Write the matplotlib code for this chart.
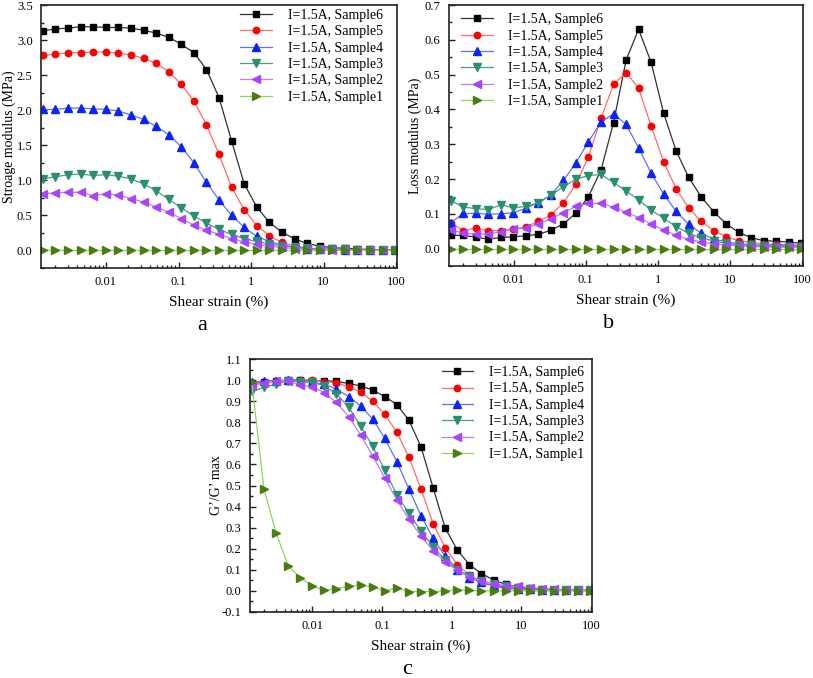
import matplotlib
matplotlib.use("Agg")
import matplotlib.pyplot as plt
from matplotlib.ticker import MultipleLocator, FormatStrFormatter, FuncFormatter, LogLocator, NullFormatter

plt.rcParams['font.family'] = ['Liberation Serif', 'DejaVu Serif']

# shear strain (%) shared by all sweeps
strain = [0.00135, 0.00201, 0.0030, 0.00447, 0.00667, 0.00994, 0.0148, 0.0221,
          0.0330, 0.0491, 0.0733, 0.109, 0.163, 0.243, 0.362, 0.540, 0.805,
          1.20, 1.79, 2.67, 3.98, 5.94, 8.85, 13.2, 19.7, 29.3, 43.8, 65.3, 97.3]

labels = ["I=1.5A, Sample6", "I=1.5A, Sample5", "I=1.5A, Sample4",
          "I=1.5A, Sample3", "I=1.5A, Sample2", "I=1.5A, Sample1"]

# storage modulus G' (MPa)
g1_s6 = [3.13, 3.16, 3.17, 3.19, 3.19, 3.18, 3.18, 3.17, 3.14, 3.10, 3.04, 2.94, 2.82, 2.58, 2.18,
         1.56, 0.95, 0.62, 0.40, 0.26, 0.165, 0.10, 0.06, 0.04, 0.03, 0.02, 0.015, 0.01, 0.005]
g1_s5 = [2.78, 2.80, 2.82, 2.82, 2.83, 2.83, 2.81, 2.79, 2.74, 2.67, 2.55, 2.37, 2.13, 1.79, 1.37,
         0.90, 0.58, 0.355, 0.21, 0.114, 0.062, 0.033, 0.019, 0.014, 0.01, 0.006, 0.005, 0.004, 0.004]
g1_s4 = [2.01, 2.01, 2.03, 2.03, 2.02, 2.01, 1.99, 1.93, 1.87, 1.77, 1.65, 1.48, 1.25, 0.97, 0.72,
         0.50, 0.33, 0.20, 0.128, 0.076, 0.047, 0.028, 0.019, 0.014, 0.01, 0.005, 0.004, 0.003, 0.003]
g1_s3 = [1.02, 1.05, 1.08, 1.09, 1.07, 1.08, 1.06, 1.02, 0.95, 0.85, 0.73, 0.61, 0.49, 0.39, 0.30,
         0.23, 0.17, 0.128, 0.095, 0.066, 0.047, 0.033, 0.024, 0.019, 0.014, 0.01, 0.006, 0.005, 0.004]
g1_s2 = [0.81, 0.82, 0.83, 0.83, 0.78, 0.81, 0.79, 0.74, 0.69, 0.62, 0.545, 0.455, 0.36, 0.29, 0.23,
         0.17, 0.123, 0.09, 0.062, 0.043, 0.028, 0.019, 0.014, 0.01, 0.007, 0.006, 0.005, 0.004, 0.003]
g1_s1 = [0.004, 0.002, 0.001, 0.0005, 0.0003, 0.0001, 0.0, 0.0, 0.0001, 0.0001, 0.0001, 0.0, 0.0,
         0.0, 0.0, 0.0, 0.0, 0.0, 0.0, 0.0, 0.0, 0.0, 0.0, 0.0, 0.0, 0.0, 0.0, 0.0, 0.0]

# loss modulus G'' (MPa)
g2_s6 = [0.038, 0.038, 0.033, 0.027, 0.032, 0.034, 0.037, 0.041, 0.053, 0.071, 0.102, 0.149, 0.226,
         0.362, 0.541, 0.630, 0.536, 0.390, 0.281, 0.205, 0.149, 0.106, 0.071, 0.047, 0.031, 0.023,
         0.021, 0.019, 0.015]
g2_s5 = [0.075, 0.051, 0.059, 0.051, 0.052, 0.056, 0.063, 0.078, 0.097, 0.132, 0.185, 0.264, 0.375,
         0.472, 0.506, 0.461, 0.353, 0.250, 0.172, 0.117, 0.078, 0.052, 0.034, 0.023, 0.017, 0.014,
         0.012, 0.011, 0.010]
g2_s4 = [0.075, 0.101, 0.101, 0.099, 0.100, 0.103, 0.116, 0.132, 0.154, 0.196, 0.247, 0.307, 0.364,
         0.387, 0.357, 0.290, 0.217, 0.157, 0.107, 0.070, 0.044, 0.028, 0.019, 0.014, 0.011, 0.010,
         0.009, 0.009, 0.008]
g2_s3 = [0.138, 0.119, 0.115, 0.112, 0.126, 0.117, 0.121, 0.132, 0.154, 0.178, 0.199, 0.210, 0.213,
         0.190, 0.166, 0.140, 0.111, 0.087, 0.063, 0.044, 0.031, 0.022, 0.015, 0.011, 0.009, 0.007,
         0.006, 0.005, 0.004]
g2_s2 = [0.054, 0.044, 0.042, 0.042, 0.049, 0.056, 0.060, 0.071, 0.086, 0.103, 0.121, 0.130, 0.130,
         0.119, 0.105, 0.089, 0.071, 0.054, 0.038, 0.027, 0.019, 0.013, 0.011, 0.008, 0.006, 0.005,
         0.004, 0.004, 0.004]
g2_s1 = [0.0, 0.0, 0.0, 0.0, 0.0, 0.0, 0.0, 0.0, 0.0, 0.0, 0.0, 0.0, 0.0, 0.0, 0.0, 0.0, 0.0, 0.0,
         0.0, 0.0, 0.0, 0.0, 0.0, 0.0, 0.0, 0.0, 0.0, 0.0, 0.0]

# normalised G'/G'max
gn_s6 = [0.981, 0.991, 0.994, 1.0, 1.0, 0.997, 0.997, 0.994, 0.984, 0.972, 0.953, 0.922, 0.884, 0.809,
         0.683, 0.489, 0.298, 0.194, 0.125, 0.082, 0.052, 0.031, 0.019, 0.013, 0.009, 0.006, 0.005,
         0.003, 0.002]
gn_s5 = [0.982, 0.989, 0.996, 0.996, 1.0, 1.0, 0.993, 0.986, 0.968, 0.943, 0.901, 0.837, 0.753, 0.633,
         0.484, 0.318, 0.205, 0.125, 0.074, 0.040, 0.022, 0.012, 0.007, 0.005, 0.004, 0.003, 0.002,
         0.002, 0.002]
gn_s4 = [0.989, 0.997, 0.998, 1.0, 0.997, 0.990, 0.981, 0.957, 0.922, 0.878, 0.815, 0.724, 0.613, 0.482,
         0.357, 0.249, 0.165, 0.101, 0.063, 0.040, 0.025, 0.017, 0.011, 0.008, 0.005, 0.003, 0.003,
         0.002, 0.002]
gn_s3 = [0.946, 0.965, 0.981, 0.997, 0.992, 0.989, 0.973, 0.935, 0.872, 0.783, 0.685, 0.574, 0.455,
         0.368, 0.284, 0.209, 0.146, 0.101, 0.070, 0.048, 0.032, 0.022, 0.014, 0.010, 0.006, 0.005,
         0.003, 0.002, 0.002]
gn_s2 = [0.970, 0.986, 0.998, 0.994, 0.978, 0.967, 0.941, 0.894, 0.827, 0.740, 0.640, 0.537, 0.431,
         0.339, 0.260, 0.190, 0.138, 0.097, 0.067, 0.048, 0.033, 0.025, 0.021, 0.016, 0.011, 0.008,
         0.006, 0.005, 0.003]
gn_s1 = [0.990, 0.483, 0.277, 0.120, 0.063, 0.024, 0.002, 0.011, 0.022, 0.029, 0.019, 0.0, 0.014,
         -0.003, -0.003, -0.003, 0.0, 0.005, 0.003, 0.0, 0.0, 0.0, 0.0, 0.0, 0.0, 0.0, 0.0, 0.0, 0.0]

mcolors = ['#000000', '#ff0000', '#0a22ff', '#2a8f6f', '#a744ff', '#4a7d10']
lcolors = ['#303030', '#ff6a6a', '#6070ff', '#48a080', '#c07aff', '#88d860']
markers = ['s', 'o', '^', 'v', '<', '>']
msizes = [4.3, 4.6, 5.2, 5.2, 5.2, 5.2]

W, H = 813, 678
fig = plt.figure(figsize=(W / 100, H / 100), dpi=100)


def px_axes(left, top, right, bottom):
    return fig.add_axes([left / W, 1 - bottom / H, (right - left) / W, (bottom - top) / H])


def draw(ax, series, ylim, ymajor, ylabel, ylab_x, leg_xy):
    for i, ys in enumerate(series):
        ax.plot(strain, ys, color=lcolors[i], lw=0.9, marker=markers[i], ms=msizes[i],
                mfc=mcolors[i], mec=mcolors[i], label=labels[i])
    ax.set_xscale('log')
    ax.set_xlim(0.00127, 103)
    ax.set_ylim(*ylim)
    ax.yaxis.set_major_locator(MultipleLocator(ymajor))
    ax.yaxis.set_minor_locator(MultipleLocator(ymajor / 2))
    ax.yaxis.set_major_formatter(FormatStrFormatter('%.1f'))
    ax.xaxis.set_major_locator(LogLocator(base=10, numticks=10))
    ax.xaxis.set_minor_locator(LogLocator(base=10, subs=range(2, 10), numticks=20))
    ax.xaxis.set_minor_formatter(NullFormatter())
    ax.xaxis.set_major_formatter(FuncFormatter(lambda v, p: '%g' % v))
    ax.tick_params(which='both', direction='in', top=False, right=False, labelsize=9,
                   width=1.0, color='#222222')
    ax.tick_params(which='major', length=4.5, pad=6)
    ax.tick_params(which='minor', length=2.5)
    for s in ax.spines.values():
        s.set_linewidth(1.2)
        s.set_color('#222222')
    ax.set_xlabel('Shear strain (%)', fontsize=11, labelpad=5)
    ax.set_ylabel(ylabel, fontsize=10)
    ax.yaxis.set_label_coords(ylab_x, 0.5)
    ax.legend(loc='upper left', bbox_to_anchor=leg_xy, frameon=False, fontsize=10,
              handlelength=2.3, handletextpad=1.1, labelspacing=0.24, borderpad=0,
              borderaxespad=0)


ax_a = px_axes(41, 5, 397, 268)
draw(ax_a, [g1_s6, g1_s5, g1_s4, g1_s3, g1_s2, g1_s1], (-0.25, 3.5), 0.5,
     'Stroage modulus (MPa)', -0.07, (0.56, 0.985))

ax_b = px_axes(449, 5, 803, 266)
draw(ax_b, [g2_s6, g2_s5, g2_s4, g2_s3, g2_s2, g2_s1], (-0.05, 0.7), 0.1,
     'Loss modulus (MPa)', -0.075, (0.033, 0.968))

ax_c = px_axes(250, 359, 592, 612)
draw(ax_c, [gn_s6, gn_s5, gn_s4, gn_s3, gn_s2, gn_s1], (-0.1, 1.1), 0.1,
     'G’/G’ max', -0.078, (0.56, 0.972))

fig.text(202 / W, 1 - 325 / H, 'a', fontsize=16, ha='center', va='center')
fig.text(609 / W, 1 - 323 / H, 'b', fontsize=16, ha='center', va='center')
fig.text(407 / W, 1 - 670 / H, 'c', fontsize=16, ha='center', va='center')

fig.savefig('out.png', dpi=100)
